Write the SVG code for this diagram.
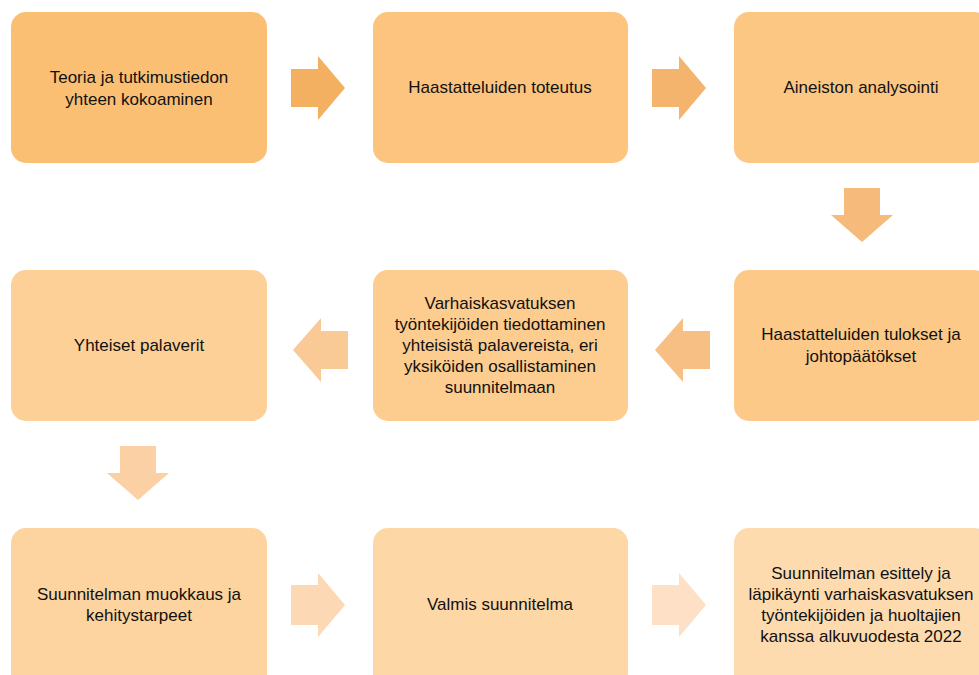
<svg xmlns="http://www.w3.org/2000/svg" width="979" height="675" viewBox="0 0 979 675">
<style>
text{font-family:"Liberation Sans",Arial,sans-serif;font-size:17px;fill:#111;text-anchor:middle}
</style>
<rect width="979" height="675" fill="#fff"/>
<g id="connectors">
<polygon points="291,69 318,69 318,56 345,88 318,120 318,107 291,107" fill="#F4B061"/>
<polygon points="652,69 679,69 679,56 706,88 679,120 679,107 652,107" fill="#F5B46D"/>
<polygon points="844,188 880,188 880,215 893,215 862,242 831,215 844,215" fill="#F6BB7A"/>
<polygon points="710,331 683,331 683,318 655,350 683,382 683,369 710,369" fill="#F7BF84"/>
<polygon points="348,331 321,331 321,318 293,350 321,382 321,369 348,369" fill="#F9C996"/>
<polygon points="120,446 156,446 156,473 169,473 138,500 107,473 120,473" fill="#FBD0A4"/>
<polygon points="291,585 318,585 318,573 345,605 318,637 318,625 291,625" fill="#FCD8B4"/>
<polygon points="652,585 679,585 679,573 706,605 679,637 679,625 652,625" fill="#FDE0C6"/>
</g>
<g id="n1"><rect x="11" y="12" width="256" height="151" rx="15" fill="#FBBF74"/>
<text x="139" y="83">Teoria ja tutkimustiedon</text><text x="139" y="105">yhteen kokoaminen</text></g>
<g id="n2"><rect x="373" y="12" width="255" height="151" rx="15" fill="#FCC47E"/>
<text x="500" y="93">Haastatteluiden toteutus</text></g>
<g id="n3"><rect x="734" y="12" width="255" height="151" rx="15" fill="#FCC683"/>
<text x="861" y="93">Aineiston analysointi</text></g>
<g id="n4"><rect x="734" y="270" width="255" height="151" rx="15" fill="#FCC988"/>
<text x="861" y="340">Haastatteluiden tulokset ja</text><text x="861" y="362">johtopäätökset</text></g>
<g id="n5"><rect x="373" y="270" width="255" height="151" rx="15" fill="#FDCC8F"/>
<text x="500" y="309">Varhaiskasvatuksen</text><text x="500" y="330">työntekijöiden tiedottaminen</text><text x="500" y="351">yhteisistä palavereista, eri</text><text x="500" y="372">yksiköiden osallistaminen</text><text x="500" y="393">suunnitelmaan</text></g>
<g id="n6"><rect x="11" y="270" width="256" height="151" rx="15" fill="#FDD097"/>
<text x="139" y="351">Yhteiset palaverit</text></g>
<g id="n7"><rect x="11" y="528" width="256" height="160" rx="15" fill="#FDD49F"/>
<text x="139" y="600">Suunnitelman muokkaus ja</text><text x="139" y="621">kehitystarpeet</text></g>
<g id="n8"><rect x="373" y="528" width="255" height="160" rx="15" fill="#FDD7A6"/>
<text x="500" y="610">Valmis suunnitelma</text></g>
<g id="n9"><rect x="734" y="528" width="255" height="160" rx="15" fill="#FDDBAF"/>
<text x="861" y="579">Suunnitelman esittely ja</text><text x="861" y="600">läpikäynti varhaiskasvatuksen</text><text x="861" y="621">työntekijöiden ja huoltajien</text><text x="861" y="642">kanssa alkuvuodesta 2022</text></g>
</svg>
